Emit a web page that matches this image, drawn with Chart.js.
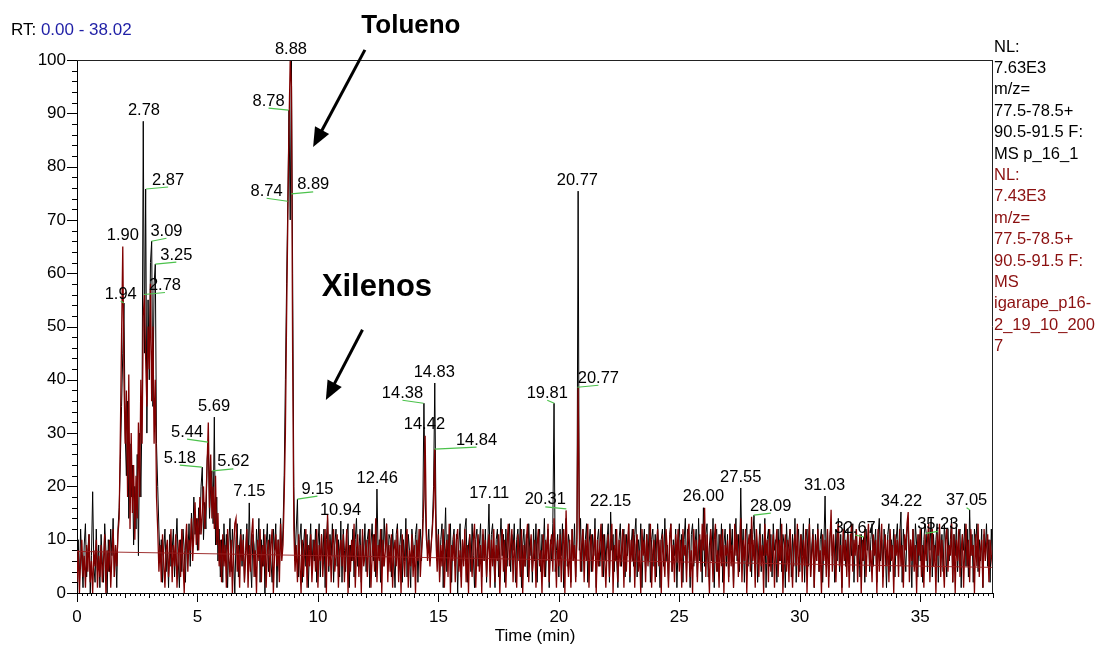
<!DOCTYPE html>
<html>
<head>
<meta charset="utf-8">
<script src="https://cdn.jsdelivr.net/npm/chart.js@4/dist/chart.umd.min.js"></script>
<style>
  html, body { margin: 0; padding: 0; background: #fff; }
  #wrap { width: 1107px; height: 647px; position: relative; }
</style>
</head>
<body>
<div id="wrap"><canvas id="c" width="1107" height="647"></canvas></div>
<script>
// ---------------- DATA ----------------
// Sampling interval of both traces (min); each row below = one minute (20 scans)
const STEP = 0.05;
const X_MAX = 38.02;

// Trace p_16_1 (black), relative abundance
const blackY = [
  4, 10, 2, 12, 6, 1, 9, 13, 3, 8, 11, 0, 7, 19, 5, 2, 12, 4, 9, 1,
  11, 6, 2, 13, 8, 0, 10, 4, 12, 7, 14, 3, 9, 1, 12, 16, 25, 35, 45, 54.4,
  30, 22, 36, 14, 28, 18, 24, 9, 20, 12, 26, 7, 30, 18, 35, 88.5, 45, 75.8, 30, 55,
  40, 62, 66, 35, 58, 61.7, 28, 20, 12, 6, 10, 2, 8, 12, 4, 9, 1, 11, 5, 8,
  12, 3, 9, 14, 6, 1, 10, 4, 12, 8, 2, 11, 7, 13, 5, 15, 9, 18, 11, 14,
  8, 16, 11, 20, 23.6, 10, 17, 12, 25, 28.3, 14, 20, 22.9, 13, 33, 9, 18, 6, 12, 3,
  10, 2, 13, 6, 11, 1, 9, 14, 4, 12, 7, 0, 10, 13, 3, 9, 12, 5, 11, 2,
  8, 13, 4, 16.9, 6, 1, 11, 9, 3, 12, 7, 14, 2, 10, 5, 12, 0, 9, 13, 4,
  11, 6, 2, 12, 8, 13, 1, 10, 4, 14, 7, 12, 22, 40, 58, 73.5, 90.6, 70, 100, 60,
  20, 6, 12, 17.6, 3, 10, 13, 2, 9, 12, 5, 11, 1, 8, 13, 4, 10, 6, 12, 2,
  9, 13, 3, 11, 6, 12, 1, 10, 14, 4, 11, 7, 13, 2, 9, 12, 5, 10, 3, 13.5,
  2, 12, 8, 4, 11, 13, 1, 9, 6, 12, 3, 10, 14, 5, 8, 12, 2, 11, 7, 13,
  4, 10, 12, 1, 9, 13, 6, 11, 3, 19.5, 7, 10, 2, 12, 5, 14, 8, 13, 4, 11,
  10, 3, 12, 7, 1, 11, 13, 4, 9, 12, 2, 10, 6, 14, 3, 11, 8, 1, 12, 9,
  5, 11, 13, 2, 9, 12, 6, 14, 35.6, 18, 10, 8, 12, 6, 9, 13, 20, 39.4, 15, 6,
  12, 3, 10, 13, 1, 9, 16, 4, 11, 7, 13, 2, 10, 12, 5, 11, 0, 9, 13, 3,
  10, 6, 12, 14, 2, 9, 11, 4, 13, 7, 1, 10, 12, 5, 9, 13, 3, 11, 6, 12,
  2, 9, 16.7, 4, 11, 13, 6, 1, 10, 12, 3, 9, 14, 7, 11, 2, 12, 5, 10, 13,
  4, 11, 8, 13, 2, 10, 12, 6, 14, 1, 9, 12, 5, 11, 3, 13, 7, 10, 2, 12,
  6, 13, 2, 10, 12, 4, 11, 8, 14, 3, 9, 12, 1, 10, 6, 13, 35.6, 4, 8, 11,
  3, 12, 7, 13, 1, 10, 14, 5, 11, 9, 2, 12, 6, 13, 3, 10, 75.4, 8, 14, 4,
  12, 6, 10, 13, 2, 9, 12, 4, 11, 7, 14, 1, 10, 12, 5, 9, 13, 3, 11, 6,
  10, 13, 2, 15.2, 8, 11, 4, 12, 6, 1, 10, 13, 5, 9, 12, 3, 11, 7, 13, 2,
  9, 12, 5, 11, 14, 3, 10, 7, 13, 1, 9, 12, 4, 11, 6, 13, 2, 10, 12, 5,
  11, 3, 13, 8, 1, 10, 12, 5, 14, 6, 9, 2, 11, 13, 4, 10, 7, 12, 1, 9,
  13, 6, 11, 2, 10, 14, 4, 12, 8, 1, 11, 13, 5, 9, 12, 3, 14, 6, 10, 2,
  16, 5, 11, 13, 3, 9, 12, 6, 14, 1, 10, 12, 4, 11, 7, 13, 2, 9, 12, 5,
  11, 3, 13, 8, 12, 1, 10, 14, 6, 11, 4, 19.7, 7, 12, 2, 10, 13, 5, 9, 12,
  3, 11, 14.6, 6, 12, 2, 9, 13, 4, 11, 7, 14, 1, 10, 12, 5, 11, 3, 13, 8,
  10, 2, 12, 6, 14, 4, 11, 9, 1, 13, 7, 10, 12, 3, 11, 5, 14, 2, 9, 12,
  4, 11, 7, 13, 2, 10, 12, 5, 14, 3, 9, 12, 1, 11, 6, 13, 4, 10, 12, 2,
  9, 18.2, 5, 12, 3, 11, 13, 7, 10, 2, 12, 6, 14, 4, 11, 1, 10, 13, 5, 9,
  12, 4, 11, 7, 13, 2, 10, 12, 5, 9, 3, 11, 6, 10.5, 2, 12, 8, 11, 4, 10,
  13, 5, 9, 12, 2, 11, 14, 6, 10, 3, 12, 8, 1, 11, 13, 4, 10, 7, 12, 3,
  10, 13, 6, 11, 15.2, 2, 12, 8, 4, 11, 14, 6, 10, 1, 12, 5, 13, 9, 3, 11,
  6, 12, 2, 10, 13, 11.2, 4, 12, 8, 14, 3, 11, 6, 10, 13, 2, 12, 7, 11, 4,
  13, 9, 3, 12, 6, 10, 14, 2, 11, 7, 13, 4, 10, 12, 1, 11, 8, 13, 5, 12,
  3, 15.6, 7, 11, 2, 12, 9, 13, 4, 10, 6, 12, 1, 11, 8, 13, 5, 10, 2, 12,
  6
];

// Trace igarape_p16-2 (dark red), same sampling
const redY = [
  2, 8, 0, 6, 10, 3, 7, 1, 9, 4, 11, 2, 6, 0, 8, 5, 10, 1, 7, 3,
  9, 2, 6, 11, 0, 8, 4, 10, 1, 7, 12, 3, 9, 5, 11, 14, 30, 48, 65, 40,
  28, 38, 18, 41, 12, 30, 15, 24, 10, 22, 14, 32, 18, 40, 28, 52, 56, 44, 35, 50,
  42, 58, 36, 50, 28, 40, 18, 12, 4, 9, 2, 11, 6, 1, 8, 10, 3, 7, 12, 2,
  9, 5, 11, 1, 7, 10, 3, 12, 6, 0, 9, 13, 4, 10, 8, 14, 6, 11, 17, 9,
  14, 8, 18, 11, 15, 20, 12, 17, 24, 32, 16, 26, 14, 20, 12, 22, 9, 15, 5, 10,
  2, 11, 5, 9, 1, 12, 7, 3, 10, 0, 8, 13, 14, 4, 9, 1, 11, 6, 10, 2,
  7, 12, 1, 9, 4, 11, 14, 3, 8, 0, 10, 6, 12, 2, 9, 5, 11, 1, 8, 10,
  3, 9, 12, 0, 7, 11, 5, 10, 2, 13, 6, 9, 18, 30, 52, 70, 88, 100, 95, 45,
  12, 4, 9, 2, 11, 6, 0, 10, 3, 8, 12, 1, 9, 5, 11, 2, 7, 10, 4, 12,
  1, 9, 6, 11, 3, 8, 12, 0, 14.8, 5, 10, 2, 9, 12, 4, 7, 11, 1, 8, 10,
  5, 11, 2, 8, 12, 0, 9, 4, 10, 6, 13, 1, 8, 11, 3, 9, 0, 12, 5, 7,
  10, 3, 9, 12, 1, 7, 11, 4, 14, 2, 9, 6, 12, 0, 10, 5, 8, 13, 2, 9,
  4, 11, 1, 8, 10, 5, 12, 2, 9, 0, 11, 7, 3, 10, 12, 1, 8, 5, 11, 3,
  9, 0, 10, 6, 12, 3, 8, 11, 18, 29.5, 12, 6, 10, 5, 9, 12, 16, 27, 10, 4,
  11, 2, 9, 5, 12, 1, 8, 10, 3, 13, 0, 9, 6, 11, 2, 10, 12, 4, 8, 1,
  10, 5, 12, 2, 9, 0, 11, 7, 3, 10, 13, 1, 8, 11, 4, 9, 0, 12, 6, 10,
  3, 8, 11, 1, 10, 5, 12, 2, 9, 6, 11, 0, 8, 12, 4, 10, 1, 9, 13, 5,
  9, 12, 2, 10, 6, 1, 11, 8, 3, 12, 0, 9, 5, 10, 13, 2, 8, 11, 4, 7,
  10, 1, 9, 12, 5, 8, 0, 11, 3, 10, 6, 13, 2, 9, 11, 4, 14, 8, 1, 10,
  5, 11, 2, 9, 12, 0, 15.5, 7, 3, 10, 1, 12, 6, 9, 2, 11, 38.6, 13, 4, 9,
  12, 2, 10, 6, 13, 1, 9, 11, 4, 8, 12, 0, 10, 5, 9, 13, 3, 11, 7, 1,
  8, 11, 3, 10, 13, 0, 9, 6, 12, 2, 10, 5, 8, 12, 1, 11, 4, 9, 13, 3,
  10, 6, 12, 1, 9, 11, 4, 8, 0, 12, 7, 10, 2, 11, 5, 9, 13, 1, 8, 10,
  2, 9, 12, 5, 10, 0, 11, 7, 3, 12, 8, 1, 10, 13, 4, 9, 2, 11, 6, 12,
  4, 10, 1, 12, 7, 9, 2, 11, 13, 3, 8, 0, 12, 6, 10, 2, 9, 11, 4, 13,
  8, 16, 3, 11, 6, 0, 12, 9, 2, 10, 13, 4, 8, 1, 11, 5, 12, 0, 9, 7,
  10, 2, 12, 5, 9, 1, 13, 7, 11, 3, 8, 14, 2, 10, 6, 12, 0, 9, 11, 4,
  14.3, 6, 10, 1, 12, 8, 3, 11, 5, 9, 0, 13, 7, 10, 2, 12, 4, 8, 11, 1,
  9, 12, 3, 10, 6, 13, 0, 8, 11, 4, 10, 2, 12, 7, 1, 9, 11, 5, 13, 3,
  8, 11, 2, 10, 5, 12, 0, 9, 13, 3, 7, 11, 1, 10, 6, 12, 4, 8, 0, 11,
  6, 10, 3, 12, 1, 9, 15.6, 4, 11, 7, 2, 10, 13, 5, 9, 0, 12, 6, 10, 3,
  11, 1, 9, 13, 4, 10, 7, 12, 2, 8, 11, 0, 10, 6, 12, 3, 9, 13, 5, 8,
  2, 11, 7, 10, 0, 12, 4, 9, 13, 1, 8, 11, 5, 10, 2, 12, 6, 9, 0, 11,
  7, 10, 3, 12, 5, 9, 1, 11, 8, 13, 15.2, 2, 10, 6, 12, 4, 9, 0, 11, 7,
  12, 3, 9, 1, 11, 6, 10, 13, 2, 8, 12, 5, 9, 0, 11, 7, 13, 3, 10, 6,
  1, 10, 12, 4, 9, 7, 13, 2, 11, 0, 10, 6, 12, 3, 8, 11, 1, 9, 13, 5,
  10, 2, 12, 7, 9, 0, 11, 5, 13, 3, 8, 10, 1, 12, 6, 9, 11, 2, 10, 7,
  5
];

// straight dark-red baseline drawn by the software
const baselineTimes = [0, 38.02];
const baselineValues = [7.8, 4.8];

// Axis ticks
const xTickValues = [0, 5, 10, 15, 20, 25, 30, 35];
const yTickValues = [0, 10, 20, 30, 40, 50, 60, 70, 80, 90, 100];

// Peak labels: text, retention time, peak height
const peakText  = ['8.88','2.78','1.90','5.69','7.15','10.94','12.46','14.83','14.42','17.11','20.77','22.15','26.00','27.55','31.03','34.22',
                   '2.87','3.09','3.25','2.78','1.94','8.78','8.74','8.89','5.44','5.18','5.62','9.15','14.38','14.84','19.81','20.31','20.77','28.09','32.67','35.23','37.05'];
const peakTime  = [8.88, 2.78, 1.90, 5.69, 7.15, 10.94, 12.46, 14.83, 14.42, 17.11, 20.77, 22.15, 26.00, 27.55, 31.03, 34.22,
                   2.87, 3.09, 3.25, 2.78, 1.94, 8.78, 8.74, 8.89, 5.44, 5.18, 5.62, 9.15, 14.38, 14.84, 19.81, 20.31, 20.77, 28.09, 32.67, 35.23, 37.05];
const peakValue = [100, 88.5, 65, 33, 16.9, 13.5, 19.5, 39.4, 29.5, 16.7, 75.4, 15.2, 16, 19.7, 18.2, 15.2,
                   75.8, 66, 61.7, 56, 54.4, 90.6, 73.5, 74.9, 28.3, 23.6, 22.9, 17.6, 35.6, 27, 35.6, 15.8, 38.6, 14.6, 10.5, 11.2, 15.6];

// ---------------- STYLE / LAYOUT ----------------
const FONT = "'Liberation Sans', Arial, Helvetica, sans-serif";
const BLACK = '#000000';
const DARKRED = '#800000';
const GREEN = '#4cc24c';
// label placement (pixels): leader-line end offset from peak; null = plain label above peak
const labelLead = [null,null,null,null,null,null,null,null,null,null,null,null,null,null,null,null,
  [22,-2],[15,-3],[21,-2],[21,-2],[-3,-2],[-20,-2],[-21,-3],[22,-2],[-21,-3],[-22,-2],[21,-2],[20,-3],[-21,-3],[42,-2],[-7,-3],[-21,-2],[21,-2],[17,-2],[-9,-2],[12,-2],[-3,-2]];

const rightTextBlack = ['NL:', '7.63E3', 'm/z=', '77.5-78.5+', '90.5-91.5 F:', 'MS p_16_1'];
const rightTextRed = ['NL:', '7.43E3', 'm/z=', '77.5-78.5+', '90.5-91.5 F:', 'MS', 'igarape_p16-', '2_19_10_200', '7'];

const toXY = (arr) => arr.map((v, i) => ({ x: Math.round(i * STEP * 100) / 100, y: v }));

const overlay = {
  id: 'overlay',
  afterDraw(chart) {
    const ctx = chart.ctx;
    const xs = chart.scales.x, ys = chart.scales.y;
    const ca = chart.chartArea;
    ctx.save();
    // frame top & right
    ctx.strokeStyle = '#222';
    ctx.lineWidth = 1;
    ctx.beginPath();
    ctx.moveTo(ca.left, Math.round(ca.top) + 0.5);
    ctx.lineTo(ca.right, Math.round(ca.top) + 0.5);
    ctx.moveTo(Math.round(ca.right) - 0.5, ca.top);
    ctx.lineTo(Math.round(ca.right) - 0.5, ca.bottom);
    ctx.stroke();

    // x ticks: minor every 0.2, medium every 1, major every 5
    ctx.strokeStyle = '#000';
    ctx.beginPath();
    for (let k = 0; k * 0.2 <= X_MAX; k++) {
      const px = Math.round(xs.getPixelForValue(k * 0.2)) + 0.5;
      const len = (k % 25 === 0) ? 9 : (k % 5 === 0 ? 5 : 3);
      ctx.moveTo(px, ca.bottom);
      ctx.lineTo(px, ca.bottom + len);
    }
    // y ticks: minor every 2, major every 10
    for (let v = 0; v <= 100; v += 2) {
      const py = Math.round(ys.getPixelForValue(v)) + 0.5;
      const len = (v % 10 === 0) ? 10 : 5;
      ctx.moveTo(ca.left - len, py);
      ctx.lineTo(ca.left, py);
    }
    ctx.stroke();

    // peak labels
    ctx.font = '16.5px ' + FONT;
    ctx.textAlign = 'center';
    ctx.textBaseline = 'middle';
    for (let i = 0; i < peakText.length; i++) {
      const px = xs.getPixelForValue(peakTime[i]);
      const py = ys.getPixelForValue(peakValue[i]);
      const lead = labelLead[i];
      if (!lead) {
        ctx.fillStyle = '#000';
        ctx.fillText(peakText[i], px, py - 11);
      } else {
        const ex = px + lead[0], ey = py + lead[1];
        ctx.strokeStyle = GREEN;
        ctx.lineWidth = 1.2;
        ctx.beginPath();
        ctx.moveTo(px, py);
        ctx.lineTo(ex, ey);
        ctx.stroke();
        ctx.fillStyle = '#000';
        ctx.fillText(peakText[i], ex, ey - 7);
      }
    }

    // arrows + compound names
    const arrow = (t0, v0, t1, v1) => {
      const x0 = xs.getPixelForValue(t0), y0 = ys.getPixelForValue(v0);
      const x1 = xs.getPixelForValue(t1), y1 = ys.getPixelForValue(v1);
      const a = Math.atan2(y1 - y0, x1 - x0);
      const hl = 19, hw = 8;
      const bx = x1 - hl * Math.cos(a), by = y1 - hl * Math.sin(a);
      ctx.strokeStyle = '#000';
      ctx.fillStyle = '#000';
      ctx.lineWidth = 3;
      ctx.beginPath();
      ctx.moveTo(x0, y0);
      ctx.lineTo(bx + 3 * Math.cos(a), by + 3 * Math.sin(a));
      ctx.stroke();
      ctx.beginPath();
      ctx.moveTo(x1, y1);
      ctx.lineTo(bx + hw * Math.sin(a), by - hw * Math.cos(a));
      ctx.lineTo(bx - hw * Math.sin(a), by + hw * Math.cos(a));
      ctx.closePath();
      ctx.fill();
    };
    arrow(11.95, 101.9, 9.8, 83.7);
    arrow(11.85, 49.4, 10.33, 36.2);
    ctx.fillStyle = '#000';
    ctx.textAlign = 'center';
    ctx.textBaseline = 'middle';
    ctx.font = 'bold 26px ' + FONT;
    ctx.fillText('Tolueno', xs.getPixelForValue(13.86), ys.getPixelForValue(106.5));
    ctx.font = 'bold 31px ' + FONT;
    ctx.fillText('Xilenos', xs.getPixelForValue(12.45), ys.getPixelForValue(57.4));

    // RT header
    ctx.font = '17px ' + FONT;
    ctx.textAlign = 'left';
    ctx.fillStyle = '#000';
    ctx.fillText('RT: ', 11, 30);
    const w = ctx.measureText('RT: ').width;
    ctx.fillStyle = '#1f1fa6';
    ctx.fillText('0.00 - 38.02', 11 + w, 30);

    // right-hand trace info
    ctx.font = '16.5px ' + FONT;
    let y = 47;
    ctx.fillStyle = '#000';
    rightTextBlack.forEach(s => { ctx.fillText(s, ca.right + 1, y); y += 21.4; });
    ctx.fillStyle = '#8b1010';
    rightTextRed.forEach(s => { ctx.fillText(s, ca.right + 1, y); y += 21.4; });
    ctx.restore();
  }
};

Chart.defaults.font.family = FONT;

new Chart(document.getElementById('c'), {
  type: 'line',
  data: {
    datasets: [
      {
        label: 'baseline',
        data: baselineTimes.map((t, i) => ({ x: t, y: baselineValues[i] })),
        borderColor: 'rgba(150,30,30,0.9)',
        borderWidth: 1,
        pointRadius: 0,
        order: 0
      },
      {
        label: 'igarape_p16-2',
        data: toXY(redY),
        borderColor: DARKRED,
        borderWidth: 1.3,
        pointRadius: 0,
        tension: 0,
        order: 1
      },
      {
        label: 'p_16_1',
        data: toXY(blackY),
        borderColor: BLACK,
        borderWidth: 1,
        pointRadius: 0,
        tension: 0,
        order: 2
      }
    ]
  },
  options: {
    responsive: false,
    devicePixelRatio: 1,
    animation: false,
    events: [],
    layout: { padding: { top: 60, right: 114, bottom: 0, left: 0 } },
    plugins: { legend: { display: false }, tooltip: { enabled: false }, title: { display: false } },
    scales: {
      x: {
        type: 'linear',
        position: 'bottom',
        min: 0,
        max: X_MAX,
        afterFit: (s) => { s.height = 54; },
        afterBuildTicks: (s) => { s.ticks = xTickValues.map(v => ({ value: v })); },
        grid: { display: false, drawTicks: false },
        border: { display: true, color: '#000', width: 1 },
        ticks: { font: { size: 17 }, color: '#000', padding: 14, maxRotation: 0, autoSkip: false, includeBounds: false },
        title: { display: true, text: 'Time (min)', font: { size: 17 }, color: '#000', padding: { top: 0, bottom: 0 } }
      },
      y: {
        type: 'linear',
        min: 0,
        max: 100,
        afterFit: (s) => { s.width = 77; },
        afterBuildTicks: (s) => { s.ticks = yTickValues.map(v => ({ value: v })); },
        grid: { display: false, drawTicks: false },
        border: { display: true, color: '#000', width: 1 },
        ticks: { font: { size: 17 }, color: '#000', padding: 11, autoSkip: false }
      }
    }
  },
  plugins: [overlay]
});
</script>
</body>
</html>
